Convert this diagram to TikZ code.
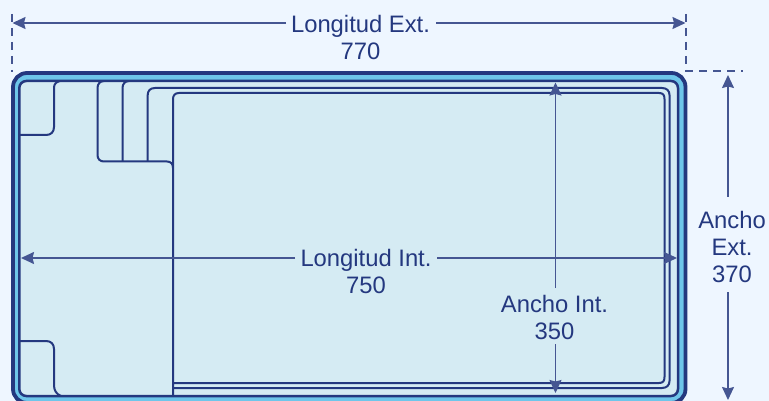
\documentclass[tikz,border=0pt]{standalone}
\usepackage{fontspec}
\setmainfont{Liberation Sans}
\usetikzlibrary{arrows.meta}
\definecolor{bgc}{HTML}{EEF6FF}
\definecolor{band}{HTML}{6EC6EA}
\definecolor{water}{HTML}{D5EBF3}
\definecolor{ink}{HTML}{24387F}
\tikzset{
  x=1pt,y=-1pt,
  outline/.style={draw=ink,line width=3.8pt},
  contour/.style={draw=ink,line width=2pt},
  dimend/.style={draw=ink!85!white,line width=1.5pt,-{Stealth[length=13pt,width=12pt,inset=1.5pt]}},
  ext/.style={draw=ink!85!white,line width=1.4pt,dash pattern=on 8pt off 6pt},
  lab/.style={text=ink,font=\fontsize{23.8}{27}\selectfont,align=center,inner sep=0pt}
}
\begin{document}
\begin{tikzpicture}
\useasboundingbox (0,0) rectangle (769,401);
\fill[bgc] (0,0) rectangle (769,401);
% pool shell
\begin{scope}
\clip (0,0) rectangle (769,401);
\path[outline,fill=band,rounded corners=14pt] (13,73) rectangle (685.5,403);
\path[fill=water,draw=ink,line width=2.5pt,rounded corners=7pt] (19.3,81) rectangle (678,396);
\end{scope}
% seats
\draw[contour] (19.5,135) -- (46,135) .. controls (51,135) and (54,132) .. (54,127) -- (54,88) .. controls (54,84) and (56,82) .. (60,81);
\draw[contour] (19.5,341) -- (46,341) .. controls (51,341) and (54,344) .. (54,349) -- (54,385) .. controls (54,390) and (56,394) .. (61,396);
% steps
\draw[contour] (104,81) .. controls (100,81) and (97.5,84) .. (97.5,88) -- (97.5,155) .. controls (97.5,159) and (100,161.5) .. (104,161.5) -- (167,161.5) .. controls (171,161.5) and (173,164) .. (173,168);
\draw[contour] (129,81) .. controls (125,81) and (122.5,84) .. (122.5,88) -- (122.5,161.5);
\draw[contour] (147.7,161.5) -- (147.7,95) .. controls (147.7,91) and (150,88) .. (155,88) -- (662,88) .. controls (667,88) and (669.5,91) .. (669.5,95) -- (669.5,381) .. controls (669.5,385) and (667,388) .. (662,388) -- (173,388);
\draw[contour] (173,396) -- (173,99) .. controls (173,95.5) and (175,93) .. (179,93) -- (659,93) .. controls (663,93) and (664.5,95) .. (664.5,99) -- (664.5,377) .. controls (664.5,381) and (663,383) .. (659,383) -- (173,383);
% dimension extension lines
\coordinate (tl) at (12,14);
\coordinate (tlb) at (12,72);
\coordinate (tr) at (686,14);
\coordinate (corner) at (686,71);
\coordinate (re) at (743,71);
\draw[ext] (tl) -- (tlb);
\draw[ext] (tr) -- (corner) -- (re);
% labels
\node[lab] (lext) at (360.5,37) {Longitud Ext.\\770};
\node[lab] (lint) at (366,271) {Longitud Int.\\750};
\node[lab] (aint) at (554.5,317) {Ancho Int.\\350};
\node[lab] (aext) at (732,247) {Ancho\\Ext.\\370};
% dimension arrows
\coordinate (lext-l) at (12.5,23);
\coordinate (lext-r) at (685.5,23);
\coordinate (lext-a) at (286,23);
\coordinate (lext-b) at (436,23);
\draw[dimend] (lext-a) -- (lext-l);
\draw[dimend] (lext-b) -- (lext-r);
\coordinate (lint-l) at (21,258);
\coordinate (lint-r) at (677,258);
\coordinate (lint-a) at (295,258);
\coordinate (lint-b) at (437,258);
\draw[dimend] (lint-a) -- (lint-l);
\draw[dimend] (lint-b) -- (lint-r);
\coordinate (aint-t) at (555.5,82.5);
\coordinate (aint-b) at (555.5,393);
\coordinate (aint-a) at (555.5,288);
\coordinate (aint-c) at (555.5,344);
\draw[dimend] (aint-a) -- (aint-t);
\draw[dimend] (aint-c) -- (aint-b);
\coordinate (aext-t) at (728,75);
\coordinate (aext-b) at (728,400);
\coordinate (aext-a) at (728,197);
\coordinate (aext-c) at (728,292);
\draw[dimend] (aext-a) -- (aext-t);
\draw[dimend] (aext-c) -- (aext-b);
\end{tikzpicture}
\end{document}
